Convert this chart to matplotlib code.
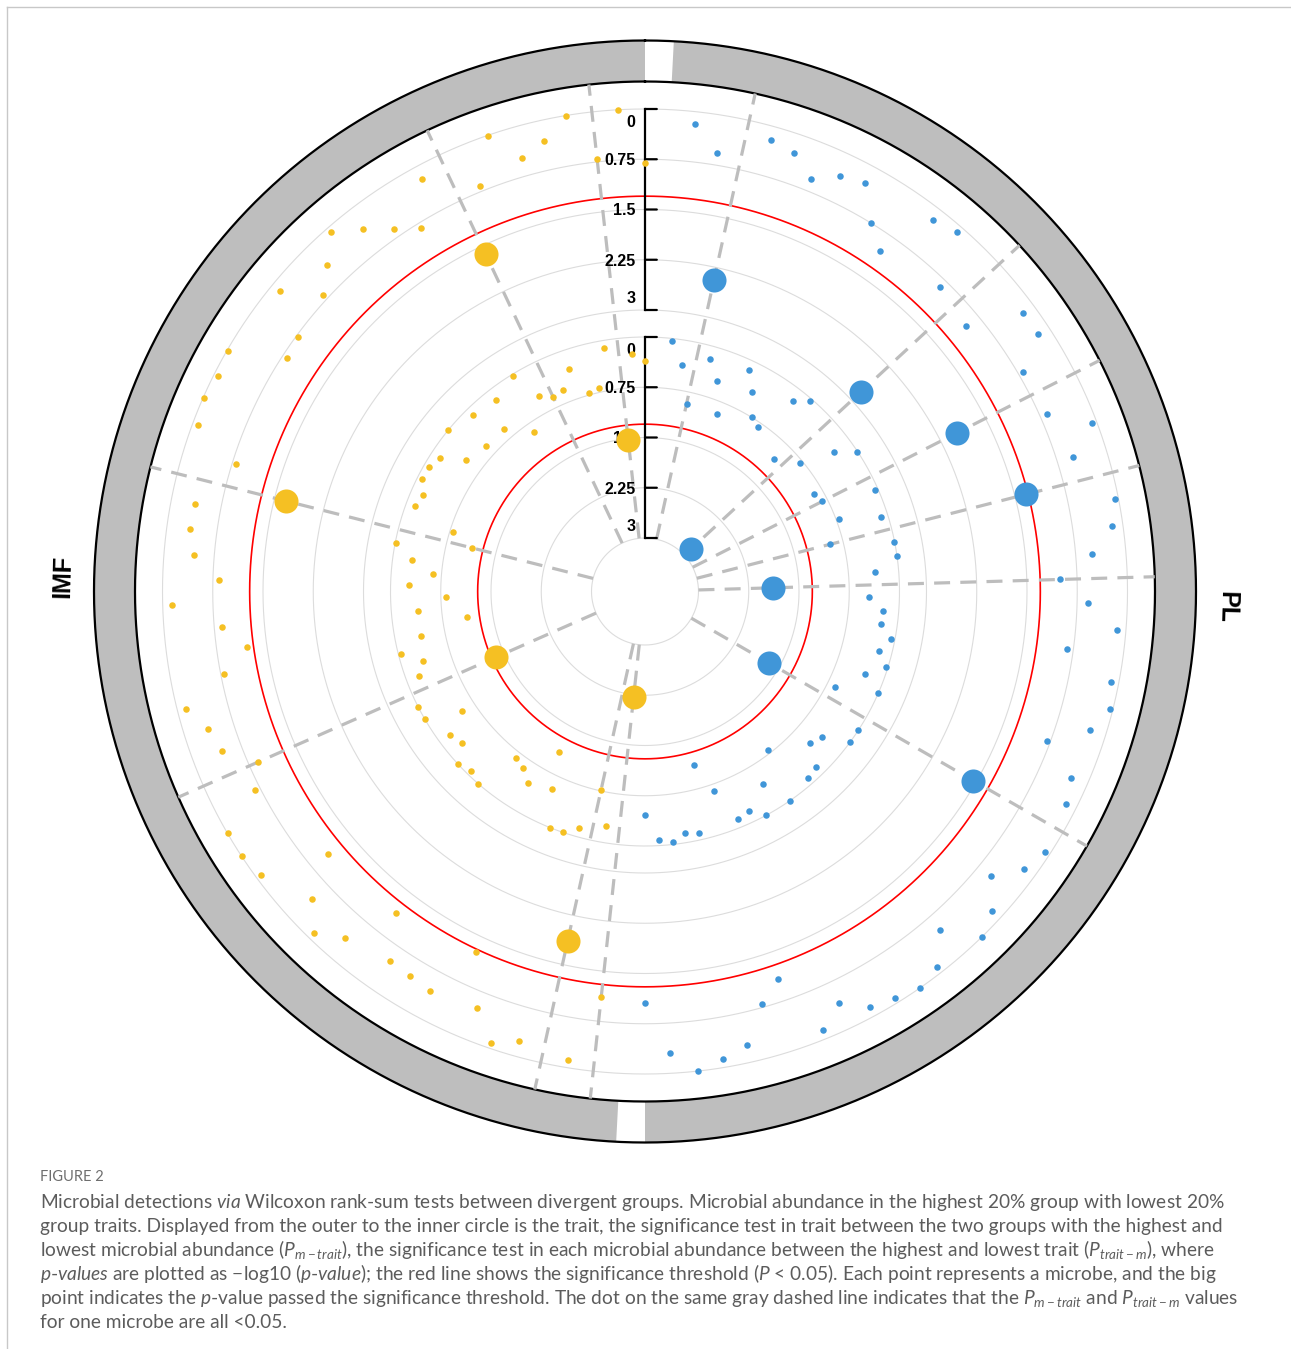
import numpy as np
import matplotlib.pyplot as plt
from matplotlib.lines import Line2D

plt.rcParams['font.family'] = ['Liberation Sans', 'DejaVu Sans']
plt.rcParams['mathtext.fontset'] = 'custom'
plt.rcParams['mathtext.rm'] = 'Lato'
plt.rcParams['mathtext.it'] = 'Lato:italic'
plt.rcParams['mathtext.bf'] = 'Lato:bold'

# ---------- data: -log10(p) per microbe, clockwise order inside each sector ----------
sectors = ['PL', 'IMF']
sector_colors = ['#4096D8', '#F5C023']

pl_trait = [0.18, 0.57, 2.44, 0.21, 0.28, 0.56, 0.35, 0.27, 0.75, 1.02,      # outer track, P m-trait
            0.19, 0.09, 0.88, 2.82, 0.99, 0.19, 0.19, 0.68, 1.97, 0.64,
            0.08, 0.50, 1.34, 0.05, 0.17, 0.50, 1.01, 0.59, 0.13, 0.85,
            0.12, 0.05, 0.24, 0.80, 0.26, 0.16, 1.55, 0.07, 0.19, 0.51,
            0.16, 0.00, 0.50, 0.10, 0.00, 0.07, 0.14, 0.41, 0.13, 1.09,
            0.81, 0.27, 0.12, 0.00, 0.31, 1.06]
pl_micro = [0.04, 0.38, 0.93, 0.20, 0.48, 0.94, 0.15, 0.42, 0.75, 0.82,      # inner track, P trait-m
            0.20, 0.03, 1.04, 2.87, 0.80, 0.30, 0.01, 0.89, 0.83, 0.04,
            0.71, 0.10, 0.95, 0.01, 0.00, 0.36, 1.88, 0.45, 0.23, 0.25,
            0.06, 0.19, 0.03, 0.29, 0.00, 0.63, 1.66, 0.01, 0.00, 0.38,
            0.46, 0.15, 0.10, 0.80, 0.00, 0.43, 0.00, 0.17, 0.13, 0.65,
            1.11, 0.10, 0.15, 0.03, 0.08, 0.47]
imf_trait = [1.11, 0.12, 1.86, 0.24, 0.09, 0.50, 1.26, 0.43, 0.47, 0.50,
             1.14, 0.36, 0.10, 0.43, 1.06, 0.07, 0.00, 0.01, 0.67, 0.89,
             0.46, 0.37, 0.13, 0.80, 1.20, 0.86, 0.14, 0.84, 0.45, 0.34,
             0.36, 1.68, 0.81, 0.08, 0.01, 0.07, 0.02, 0.82, 0.78, 0.14,
             0.67, 0.39, 0.08, 0.35, 0.62, 0.83, 0.20, 1.63, 0.67, 0.01,
             0.47, 0.31, 0.00, 0.71, 0.01, 0.80]
imf_micro = [2.22, 0.25, 0.76, 0.14, 0.00, 0.00, 0.54, 1.08, 0.45, 0.59,
             0.66, 0.00, 0.06, 0.00, 0.26, 0.18, 0.54, 0.00, 0.00, 1.37,
             0.20, 0.33, 0.04, 0.39, 1.11, 0.40, 0.82, 0.27, 0.62, 0.29,
             0.02, 1.14, 0.79, 0.13, 0.19, 0.07, 0.07, 0.15, 0.48, 0.00,
             0.58, 0.12, 0.59, 0.17, 0.90, 0.03, 0.48, 0.58, 0.55, 0.29,
             0.72, 0.69, 0.12, 1.52, 0.25, 0.36]

tick_vals = [0, 0.75, 1.5, 2.25, 3]
tick_labels = ['0', '0.75', '1.5', '2.25', '3']
p_cut = 0.05

# ---------- layout (radii in pixels) ----------
W, H = 1291, 1349
cx, cy, rmax = 645, 591.5, 560
gap, sec_w = 3.0, 177.0
track_top = [482.5, 254.5]        # radius of value 0 for outer / inner track
px_per_unit = 67.0
ring_in, ring_out = 510, 551

def rad(v, k):
    return track_top[k] - px_per_unit * np.asarray(v, dtype=float)

fig = plt.figure(figsize=(W / 100, H / 100), dpi=100)
ax = fig.add_axes([(cx - rmax) / W, (H - cy - rmax) / H, 2 * rmax / W, 2 * rmax / H], projection='polar')
ax.set_theta_zero_location('N')
ax.set_theta_direction(-1)
ax.set_ylim(0, rmax)
ax.axis('off')

tt = np.linspace(0, 2 * np.pi, 1441)

# outer trait ring
for s in range(2):
    start = s * 180 + gap
    ax.bar(np.radians(start + sec_w / 2), ring_out - ring_in, width=np.radians(sec_w), bottom=ring_in,
           color='#BEBEBE', lw=0, zorder=1)
    ax.text(np.radians(start + sec_w / 2), 582, sectors[s], rotation=-(start + sec_w / 2),
            rotation_mode='anchor', ha='center', va='center', fontsize=18, fontweight='bold')
for r in (ring_in, ring_out):
    ax.plot(tt, np.full_like(tt, r), color='black', lw=1.6, zorder=2)

# grid circles and significance threshold
for k in range(2):
    for v in tick_vals:
        ax.plot(tt, np.full_like(tt, rad(v, k)), color='#DCDCDC', lw=0.8, zorder=1)
    ax.plot(tt, np.full_like(tt, rad(-np.log10(p_cut), k)), color='red', lw=1.2, zorder=2)

# y axis at the top
for k in range(2):
    ax.plot([0, 0], [rad(0, k), rad(3, k)], color='black', lw=1.6, zorder=4)
    for v, lab in zip(tick_vals, tick_labels):
        ax.annotate('', xy=(0, rad(v, k)), xytext=(8.5, 0), textcoords='offset points',
                    arrowprops=dict(arrowstyle='-', lw=1.6, color='black', shrinkA=0, shrinkB=0), zorder=4)
        dy = -9.5 if v == 0 else (8 if v == 3 else -1)
        ax.annotate(lab, xy=(0, rad(v, k)), xytext=(-7, dy), textcoords='offset points',
                    ha='right', va='center', fontsize=11.5, fontweight='bold', zorder=4)

# microbes
cut = -np.log10(p_cut)
for s, (outer, inner) in enumerate([(pl_trait, pl_micro), (imf_trait, imf_micro)]):
    n = len(outer)
    start = s * 180 + gap
    th = np.radians(start + np.arange(1, n + 1) * sec_w / n)
    outer = np.array(outer)
    inner = np.array(inner)
    for i in np.where((outer > cut) | (inner > cut))[0]:
        ax.plot([th[i], th[i]], [rad(3, 1), ring_in], color='#BDBDBD', lw=2.3,
                dashes=(5, 3.2), zorder=3)
    for k, vals in enumerate([outer, inner]):
        big = vals > cut
        ax.scatter(th[~big], rad(vals[~big], k), s=22, color=sector_colors[s], lw=0, zorder=5)
        ax.scatter(th[big], rad(vals[big], k), s=300, color=sector_colors[s], lw=0, zorder=5)

# page frame
fig.add_artist(Line2D([7 / W, 1], [1 - 7 / H, 1 - 7 / H], color='#C8C8C8', lw=1))
fig.add_artist(Line2D([7 / W, 7 / W], [0, 1 - 7 / H], color='#C8C8C8', lw=1))

# caption
cap_font = ['Lato', 'DejaVu Sans']
fig.text(40 / W, 1 - 1181 / H, 'FIGURE 2', fontsize=10.5, color='#6E6E6E', family=cap_font, va='baseline')
lines = [
    r'Microbial detections $\mathit{via}$ Wilcoxon rank-sum tests between divergent groups. Microbial abundance in the highest 20% group with lowest 20%',
    r'group traits. Displayed from the outer to the inner circle is the trait, the significance test in trait between the two groups with the highest and',
    r'lowest microbial abundance ($P_{m-trait}$), the significance test in each microbial abundance between the highest and lowest trait ($P_{trait-m}$), where',
    r'$\mathit{p}$-$\mathit{values}$ are plotted as −log10 ($\mathit{p}$-$\mathit{value}$); the red line shows the significance threshold ($P$ < 0.05). Each point represents a microbe, and the big',
    r'point indicates the $\mathit{p}$-value passed the significance threshold. The dot on the same gray dashed line indicates that the $P_{m-trait}$ and $P_{trait-m}$ values',
    r'for one microbe are all <0.05.',
]
for j, line in enumerate(lines):
    fig.text(40 / W, 1 - (1208 + 24 * j) / H, line, fontsize=13.8, color='#5C5C5C', family=cap_font, va='baseline')

fig.savefig('out.png', dpi=100)
